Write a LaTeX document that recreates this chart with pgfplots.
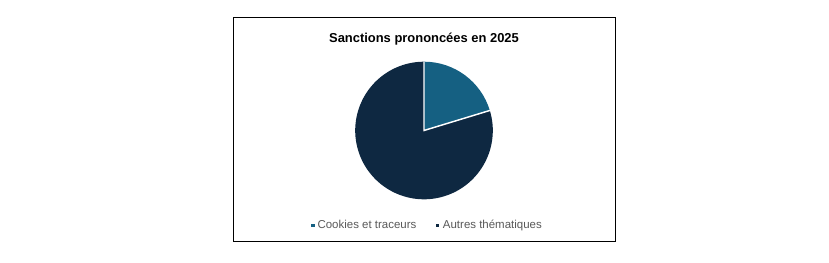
\documentclass[border=0pt]{standalone}
\usepackage{pgfplots}
\usepackage{pgfplotstable}
\pgfplotsset{compat=1.18}
\usepackage{fontspec}
\setmainfont{Liberation Sans}
\definecolor{cookies}{HTML}{156082}
\definecolor{autres}{HTML}{0E2841}
\definecolor{legtext}{HTML}{595959}
\pgfplotstableread{
label value
Cookies 20.3
Autres 79.7
}\pietable
\begin{document}
\begin{tikzpicture}[x=0.75pt,y=0.75pt]
\useasboundingbox (0,0) rectangle (829,263);
\fill[white] (0,0) rectangle (829,263);
\draw[black,line width=0.75pt] (233,21) rectangle (615,245);
\node[font=\fontsize{9.7}{11}\selectfont\bfseries,anchor=base] at (424,220.5) {Sanctions prononcées en 2025};
\pgfplotstablegetelem{0}{value}\of\pietable \let\vA\pgfplotsretval
\pgfplotstablegetelem{1}{value}\of\pietable \let\vB\pgfplotsretval
\pgfmathsetmacro{\total}{\vA+\vB}
\pgfmathsetmacro{\aA}{90-360*\vA/\total}
\begin{axis}[
  at={(318pt,99.375pt)}, anchor=center,
  scale only axis, width=103.2pt, height=103.2pt,
  xmin=-1, xmax=1, ymin=-1, ymax=1,
  hide axis, clip=false]
\addplot[draw=none] coordinates {(0,0)};
\fill[cookies] (axis cs:0,0) -- (axis cs:0,1) arc[start angle=90, end angle=\aA, radius=51.6pt] -- cycle;
\fill[autres] (axis cs:0,0) -- (axis cs:{cos(\aA)},{sin(\aA)}) arc[start angle=\aA, end angle=-270, radius=51.6pt] -- cycle;
\draw[white,line width=1.1pt] (axis cs:0,1) -- (axis cs:0,0) -- (axis cs:{cos(\aA)},{sin(\aA)});
\end{axis}
\fill[cookies] (311,35.8) rectangle (314.5,39.3);
\node[font=\fontsize{8.6}{10}\selectfont,text=legtext,anchor=base west,inner sep=0pt] at (317.3,34) {Cookies et traceurs};
\fill[autres] (435.5,35.8) rectangle (439,39.3);
\node[font=\fontsize{8.6}{10}\selectfont,text=legtext,anchor=base west,inner sep=0pt] at (442.7,34) {Autres thématiques};
\end{tikzpicture}
\end{document}
